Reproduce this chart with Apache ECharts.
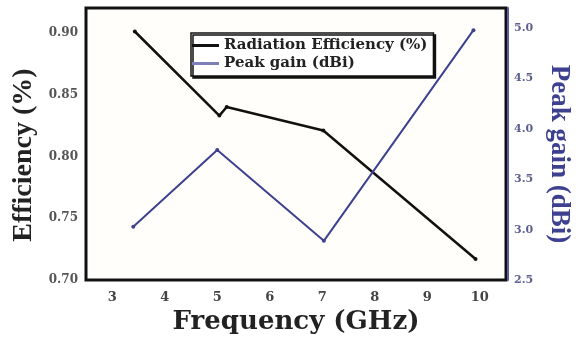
<!DOCTYPE html>
<html>
<head>
<meta charset="utf-8">
<script src="https://cdn.jsdelivr.net/npm/echarts@6/dist/echarts.min.js"></script>
<style>html,body{margin:0;padding:0;background:#fff;}#c{width:583px;height:340px;}</style>
</head>
<body>
<div id="c"></div>
<script>
var effFreq = [3.43, 5.04, 5.18, 7.02, 9.92];
var effValues = [0.901, 0.833, 0.840, 0.821, 0.717];
var gainFreq = [3.40, 5.00, 7.03, 9.88];
var gainValues = [3.03, 3.79, 2.89, 4.98];
var seriesNames = ['Radiation Efficiency (%)', 'Peak gain (dBi)'];
var xTickLabels = ['3','4','5','6','7','8','9','10'];

function pairs(xs, ys){ return xs.map(function(x,i){ return [x, ys[i]]; }); }

var chart = echarts.init(document.getElementById('c'), null, {renderer:'canvas'});
var blue = '#3d418f';
chart.setOption({
  animation: false,
  backgroundColor: '#ffffff',
  grid: {left: 86, right: 77, top: 8, bottom: 58, show: true, borderColor: '#111', borderWidth: 3, backgroundColor: '#fffefa'},
  legend: {
    data: [
      {name: seriesNames[0], icon: 'rect', itemStyle: {color: '#111'}},
      {name: seriesNames[1], icon: 'rect', itemStyle: {color: '#7d80b8'}}
    ],
    orient: 'vertical', left: 191, top: 33,
    itemWidth: 27, itemHeight: 3, itemGap: 3,
    padding: [5, 6, 5, 1],
    backgroundColor: '#fff',
    borderColor: '#111', borderWidth: 1.5,
    shadowColor: '#111', shadowOffsetX: 2, shadowOffsetY: 2, shadowBlur: 0,
    textStyle: {fontFamily: 'DejaVu Serif', fontWeight: 'bold', fontSize: 15, color: '#222'}
  },
  xAxis: {
    type: 'value', min: 2.5, max: 10.5, interval: 0.5,
    name: 'Frequency (GHz)', nameLocation: 'middle', nameGap: 25,
    nameTextStyle: {fontFamily: 'DejaVu Serif', fontWeight: 'bold', fontSize: 26, color: '#222', verticalAlign: 'top'},
    axisLine: {show: false}, axisTick: {show: false}, splitLine: {show: false},
    axisLabel: {margin: 11, fontFamily: 'DejaVu Serif', fontWeight: 'bold', fontSize: 13, color: '#444',
      formatter: function(v){ var s = String(Math.round(v)); return (Math.abs(v - Math.round(v)) < 1e-6 && xTickLabels.indexOf(s) >= 0) ? s : ''; }}
  },
  yAxis: [{
    type: 'value', min: 0.70, max: 0.92, interval: 0.05, position: 'left',
    name: 'Efficiency (%)', nameLocation: 'middle', nameGap: 42,
    nameTextStyle: {fontFamily: 'Liberation Serif', fontWeight: 'bold', fontSize: 28, color: '#222', padding: [0, 22, 0, 0]},
    axisLine: {show: false}, axisTick: {show: false}, splitLine: {show: false},
    axisLabel: {showMaxLabel: false, margin: 8, fontFamily: 'DejaVu Serif', fontWeight: 'bold', fontSize: 12, color: '#555',
      formatter: function(v){ return v.toFixed(2); }}
  }, {
    type: 'value', min: 2.5, max: 5.2, interval: 0.5, position: 'right', offset: 2,
    name: 'Peak gain (dBi)', nameLocation: 'middle', nameGap: 37, nameRotate: -90,
    nameTextStyle: {fontFamily: 'Liberation Serif', fontWeight: 'bold', fontSize: 27, color: blue, padding: [0, 0, 0, 20]},
    axisLine: {show: true, lineStyle: {color: '#5a5ea0', width: 2}}, axisTick: {show: false}, splitLine: {show: false},
    axisLabel: {showMaxLabel: false, margin: 6, fontFamily: 'DejaVu Serif', fontWeight: 'bold', fontSize: 11, color: '#5c608f',
      formatter: function(v){ return v.toFixed(1); }}
  }],
  series: [{
    name: seriesNames[0], type: 'line', yAxisIndex: 0,
    data: pairs(effFreq, effValues),
    symbol: 'circle', symbolSize: 4, showSymbol: true,
    lineStyle: {color: '#111', width: 2.5}, itemStyle: {color: '#111'}
  }, {
    name: seriesNames[1], type: 'line', yAxisIndex: 1,
    data: pairs(gainFreq, gainValues),
    symbol: 'circle', symbolSize: 4, showSymbol: true,
    lineStyle: {color: blue, width: 2}, itemStyle: {color: blue}
  }]
});
</script>
</body>
</html>
